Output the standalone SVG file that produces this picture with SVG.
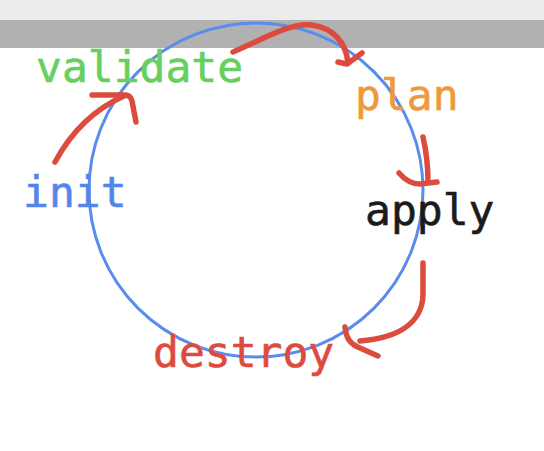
<svg xmlns="http://www.w3.org/2000/svg" width="544" height="451" viewBox="0 0 544 451">
  <style>
    .lbl { font-family: "DejaVu Sans Mono", "Liberation Mono", monospace; font-size: 43px; stroke-width: 0.6; }
    .cycle { fill: none; stroke: #5a8cee; stroke-width: 3; }
    .arrow { fill: none; stroke: #dd4b3f; stroke-width: 5.5; stroke-linecap: round; stroke-linejoin: round; }
  </style>
  <rect x="0" y="0" width="544" height="451" fill="#ffffff"/>
  <rect x="0" y="0" width="544" height="20" fill="#ececec"/>
  <rect x="0" y="20" width="544" height="28" fill="#b1b1b1"/>
  <g id="cycle">
    <circle class="cycle" cx="256" cy="190" r="167"/>
  </g>
  <g id="init"><text class="lbl" x="23" y="207" fill="#5585ea" stroke="#5585ea">init</text></g>
  <g id="validate"><text class="lbl" x="36" y="82" fill="#67cf5e" stroke="#67cf5e">validate</text></g>
  <g id="plan"><text class="lbl" x="355" y="110" fill="#ee9a3b" stroke="#ee9a3b">plan</text></g>
  <g id="apply"><text class="lbl" x="365" y="225" fill="#1b1b1b" stroke="#1b1b1b">apply</text></g>
  <g id="destroy"><text class="lbl" x="153" y="367" fill="#dd4b3f" stroke="#dd4b3f">destroy</text></g>
  <g id="connectors">
    <path class="arrow" d="M55,162 C68,138 88,112 124,96"/>
    <path class="arrow" d="M92,95 L126,95 Q131,96 132,101 L136,122"/>
    <path class="arrow" d="M233,52 C262,40 290,22 312,25 C333,28 346,42 348,63"/>
    <path class="arrow" d="M338,62 L347,64 L362,53"/>
    <path class="arrow" d="M423,137 C426,150 428,165 428,182"/>
    <path class="arrow" d="M399,173 C405,180 412,184 420,184 L437,182"/>
    <path class="arrow" d="M423,263 L423,295 C422,325 395,338 360,341"/>
    <path class="arrow" d="M345,327 C346,338 350,344 360,348 L378,356"/>
  </g>
</svg>
